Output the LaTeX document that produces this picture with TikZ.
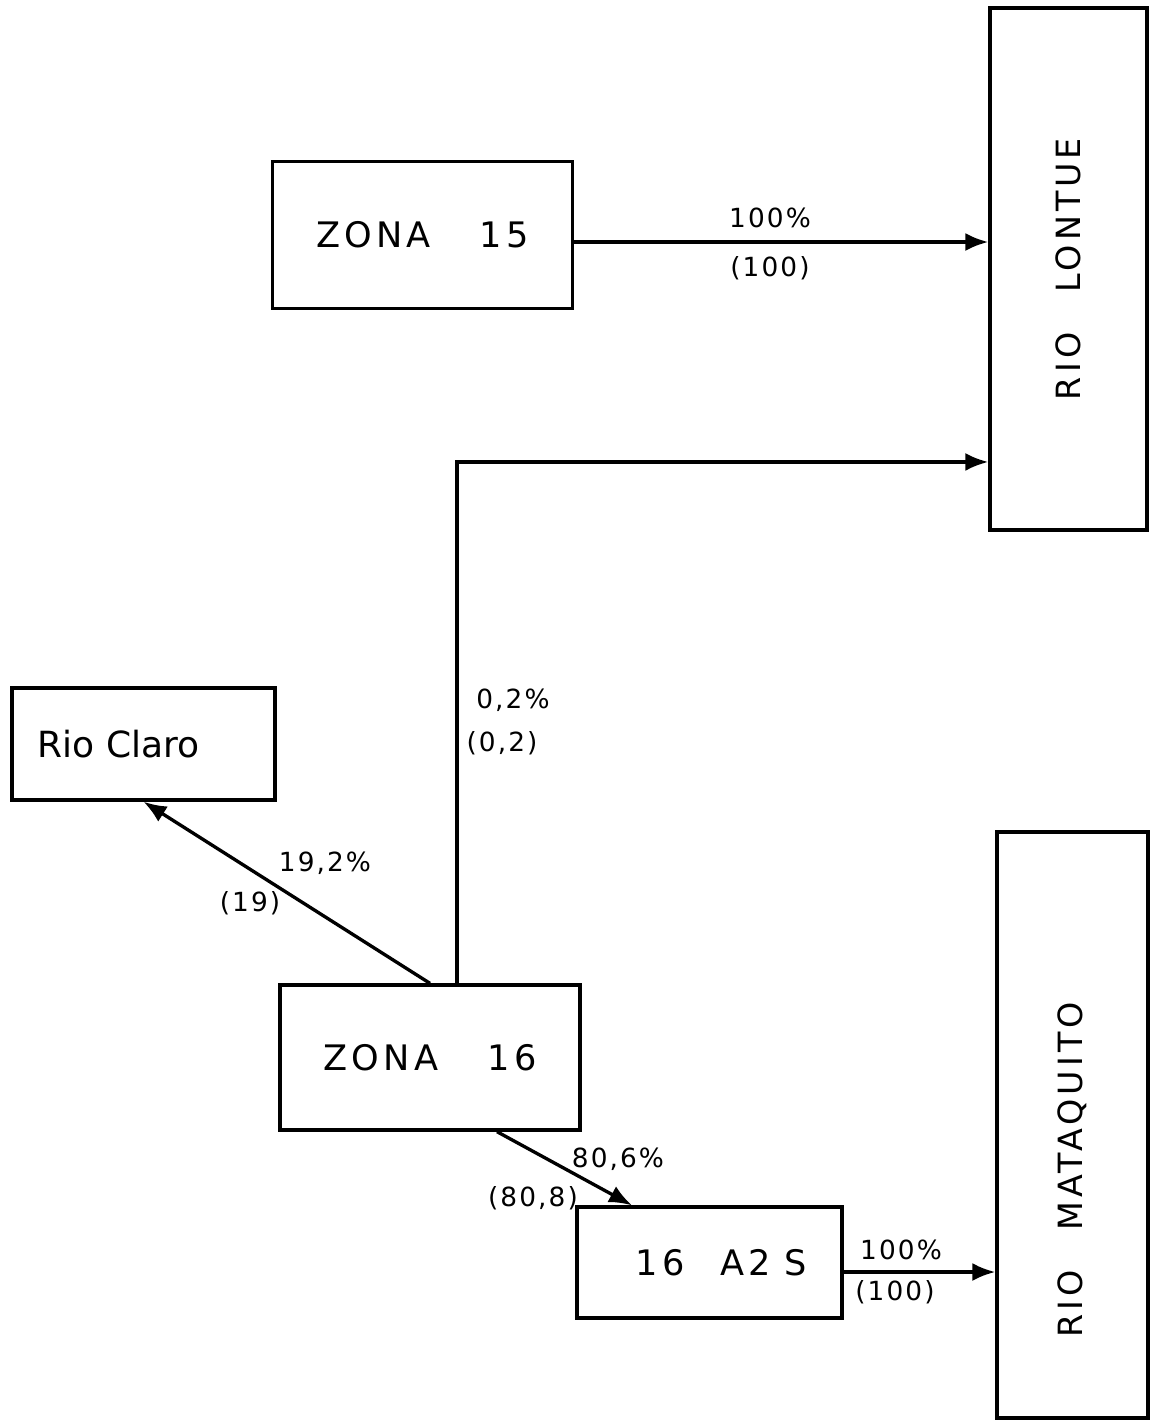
\documentclass[tikz,border=0pt]{standalone}
\usepackage{fontspec}
\setmainfont{DejaVu Sans}
\newfontfamily\draftfont[LetterSpace=12]{DejaVu Sans}
\newfontfamily\smallfont[LetterSpace=8]{DejaVu Sans}
\usetikzlibrary{arrows.meta,positioning}

\begin{document}
\begin{tikzpicture}[
  x=0.02cm, y=-0.02cm,
  line width=1.9pt,
  zone/.style={draw, minimum width=6cm, minimum height=2.95cm, inner sep=0pt, font=\draftfont\fontsize{20}{24}\selectfont},
  river/.style={draw, inner sep=0pt, font=\draftfont\fontsize{19}{23}\selectfont},
  lbl/.style={font=\smallfont\fontsize{15}{17}\selectfont, inner sep=1pt},
  arr/.style={-{Latex[length=0.46cm,width=0.36cm]}}
]
\useasboundingbox (0,0) rectangle (1158,1424);

\node[zone] (zona15) at (422.5,235) {ZONA\hspace{1.4em}15};
\node[river, minimum width=3.14cm, minimum height=10.44cm] (lontue) at (1068.5,269) {\rotatebox{90}{RIO\hspace{1.2em}LONTUE}};
\node[zone, minimum width=5.26cm, minimum height=2.24cm, font=\fontsize{20.5}{24}\selectfont] (claro) at (143.5,744) {Rio Claro\hspace*{1cm}\null};
\node[zone, minimum height=2.9cm] (zona16) at (430,1057.5) {ZONA\hspace{1.4em}16};
\node[zone, minimum width=5.3cm, minimum height=2.22cm] (a2s) at (709.5,1262.5) {\hspace{0.48cm}16\hspace{1em}A2\hspace{0.4em}S};
\node[river, minimum width=3.02cm, minimum height=11.72cm] (mataquito) at (1072.5,1125) {\rotatebox{90}{RIO\hspace{1.2em}MATAQUITO\hspace{1.8cm}}};

% flows
\coordinate (a15) at ([yshift=-0.14cm]zona15.east);
\draw[arr] (a15) -- (a15 -| lontue.west);
\coordinate (up16) at ([xshift=0.54cm]zona16.north);
\coordinate (in16) at ([yshift=-3.86cm]lontue.west);
\draw[arr] (up16) |- (in16);
\draw[arr] (zona16.north) -- (claro.south);
\draw[arr] ([xshift=1.34cm]zona16.south) -- ([xshift=-1.55cm]a2s.north);
\coordinate (out) at ([yshift=-0.19cm]a2s.east);
\draw[arr] (out) -- (out -| mataquito.west);

% percentages
\node[lbl] (p15) at (770,218) {100\%};
\node[lbl] (n15) at (770,268) {(100)};
\node[lbl] (plt) at (513,700) {0,2\%};
\node[lbl] (nlt) at (502,743) {(0,2)};
\node[lbl] (pcl) at (325,863) {19,2\%};
\node[lbl] (ncl) at (250,903) {(19)};
\node[lbl] (pa2) at (618,1159) {80,6\%};
\node[lbl] (na2) at (533,1198) {(80,8)};
\node[lbl] (pmq) at (901,1250) {100\%};
\node[lbl] (nmq) at (895,1292) {(100)};
\end{tikzpicture}
\end{document}
